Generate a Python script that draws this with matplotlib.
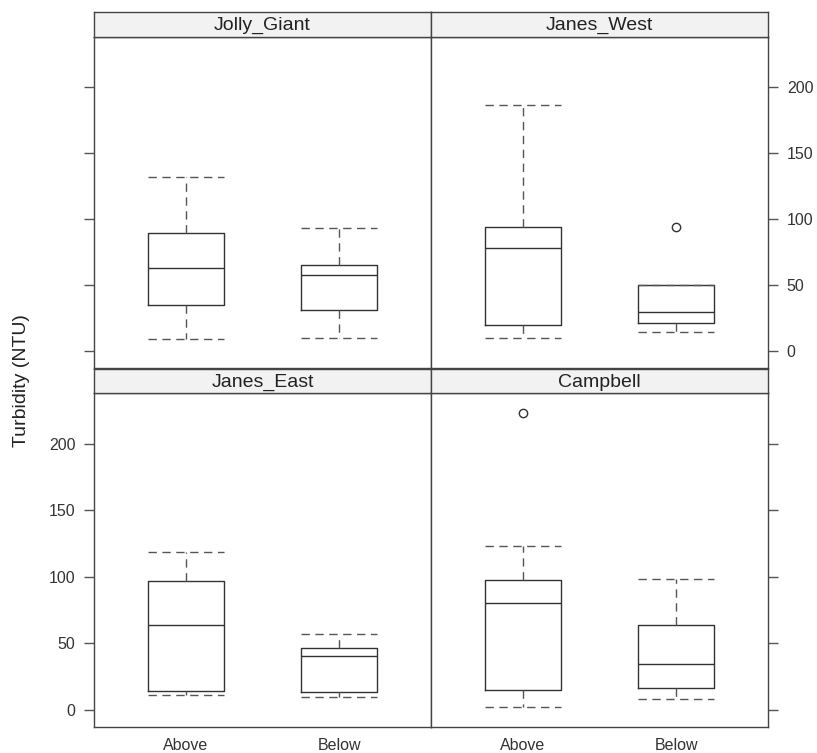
import numpy as np
import matplotlib
matplotlib.use("Agg")
from matplotlib import pyplot as plt

plt.rcParams['font.family'] = ['Liberation Sans', 'DejaVu Sans']

# data (NTU)
sites = ["Jolly_Giant", "Janes_West", "Janes_East", "Campbell"]
groups = ["Above", "Below"]
whis_lo = [[8.8, 10.1], [10.1, 14.3], [10.8, 9.3], [2.0, 8.0]]
q1 = [[34.5, 30.7], [19.4, 20.9], [14.3, 13.3], [15.1, 16.3]]
med = [[62.6, 57.9], [78.0, 29.4], [63.4, 40.5], [80.0, 34.4]]
q3 = [[89.3, 65.2], [94.3, 49.6], [96.8, 46.0], [97.3, 63.4]]
whis_hi = [[131.6, 93.1], [186.7, 49.6], [118.2, 57.1], [123.2, 98.1]]
outliers = [[[], []], [[], [94.3]], [[], []], [[222.6], []]]
yticks = [0, 50, 100, 150, 200]

W, H = 817, 753
fig = plt.figure(figsize=(W / 100, H / 100), dpi=100)

# panel geometry in pixels
xl, xm, xr = 94, 431, 768
rows = [(12, 37, 368), (369, 393, 727)]  # strip top, panel top, panel bottom
edge = "#444444"


def fx(px):
    return px / W


def fy(py):
    return 1 - py / H


for i, site in enumerate(sites):
    r, c = divmod(i, 2)
    st, pt, pb = rows[r]
    x0, x1 = (xl, xm) if c == 0 else (xm, xr)

    ax = fig.add_axes([fx(x0), fy(pb), fx(x1 - x0), fy(pt) - fy(pb)])
    stats = []
    for g in range(2):
        stats.append(dict(med=med[i][g], q1=q1[i][g], q3=q3[i][g],
                          whislo=whis_lo[i][g], whishi=whis_hi[i][g],
                          fliers=outliers[i][g]))
    ax.bxp(stats, positions=[1, 2], widths=0.5, capwidths=0.5,
           boxprops=dict(color="#333333", lw=1.0),
           medianprops=dict(color="#333333", lw=1.0),
           whiskerprops=dict(color="#555555", lw=1.0, ls=(0, (6, 4))),
           capprops=dict(color="#555555", lw=1.0, ls=(0, (6, 4))),
           flierprops=dict(marker="o", mfc="none", mec="#333333", ms=6, mew=1.0))
    ax.set_xlim(0.4, 2.6)
    ax.set_ylim(-13, 238)
    for s in ax.spines.values():
        s.set_color(edge)
        s.set_linewidth(1.0)

    ax.set_xticks([1, 2])
    ax.tick_params(axis="x", length=0, labelsize=11.5, pad=8, colors="#333333")
    if r == 0:
        ax.set_xticklabels([])
    else:
        ax.set_xticklabels(groups)

    ax.set_yticks(yticks)
    ax.tick_params(axis="y", direction="out", length=7.5, width=1, color="#555555",
                   labelsize=11.5, labelcolor="#333333", pad=6)
    if c == 0:
        ax.yaxis.set_ticks_position("left")
        if r == 0:
            ax.set_yticklabels([])
    else:
        ax.yaxis.set_ticks_position("right")
        if r == 1:
            ax.set_yticklabels([])

    # strip above the panel
    sax = fig.add_axes([fx(x0), fy(pt), fx(x1 - x0), fy(st) - fy(pt)])
    sax.set_facecolor("#F2F2F2")
    sax.set_xticks([])
    sax.set_yticks([])
    for s in sax.spines.values():
        s.set_color(edge)
        s.set_linewidth(1.0)
    sax.text(0.5, 0.45, site, ha="center", va="center", fontsize=14,
             color="#222222", transform=sax.transAxes)

fig.text(fx(22), fy(381), "Turbidity (NTU)", rotation=90, ha="center",
         va="center", fontsize=14, color="#222222")

fig.savefig("out.png", dpi=100)
